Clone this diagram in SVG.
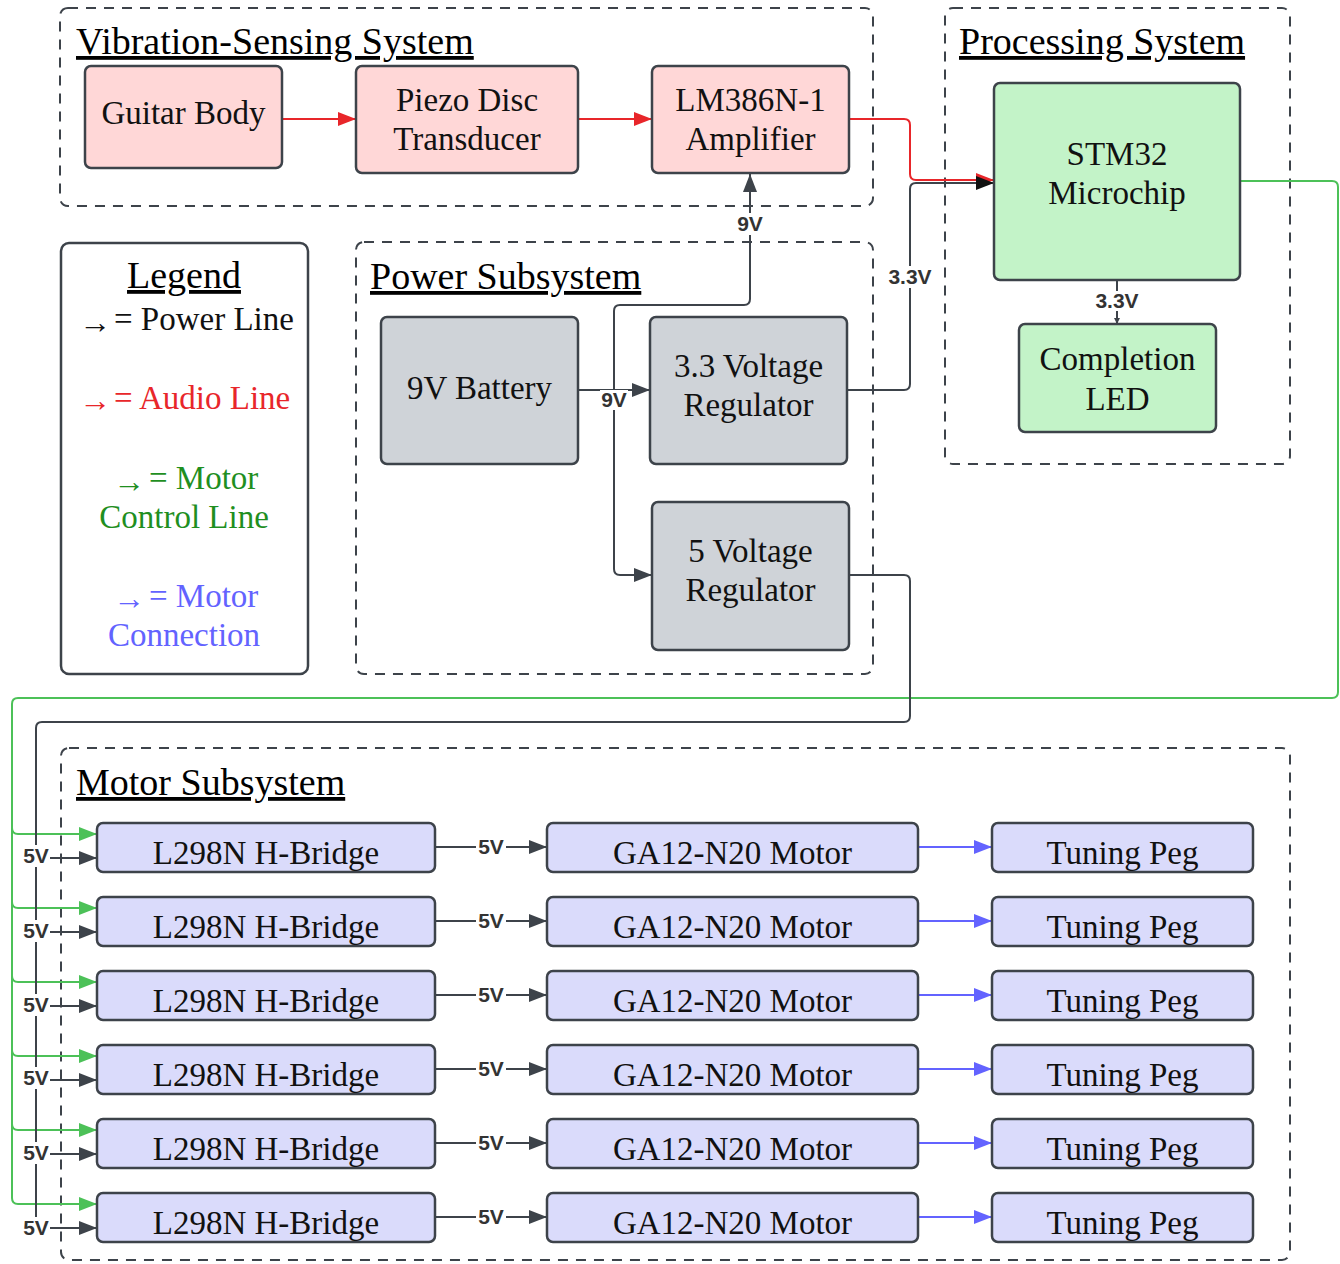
<svg xmlns="http://www.w3.org/2000/svg" width="1340" height="1264" viewBox="0 0 1340 1264">
<style>
.cont{fill:none;stroke:#3d434a;stroke-width:2;stroke-dasharray:10 8}
.title{font-family:"Liberation Serif",serif;font-size:38px;fill:#000;text-decoration:underline}
.nt{font-family:"Liberation Serif",serif;font-size:33px;fill:#111;text-anchor:middle}
.lt{font-family:"Liberation Serif",serif;font-size:33px}
.la{font-family:"Liberation Serif",serif;font-size:32px}
.pink{fill:#ffd7d7;stroke:#3d434a;stroke-width:2.5}
.grn{fill:#c3f3c8;stroke:#3d434a;stroke-width:2.5}
.gry{fill:#cfd3d8;stroke:#3d434a;stroke-width:2.5}
.lav{fill:#dadbfb;stroke:#3d434a;stroke-width:2.5}
.pw{fill:none;stroke:#3d434a;stroke-width:2}
.au{fill:none;stroke:#e8262a;stroke-width:2}
.mc{fill:none;stroke:#4cc158;stroke-width:2}
.mo{fill:none;stroke:#6363ff;stroke-width:2}
.lb{font-family:"Liberation Sans",sans-serif;font-size:21px;font-weight:bold;fill:#333;text-anchor:middle}
.bg{fill:#fff}
</style>
<defs>
<marker id="mp" markerUnits="userSpaceOnUse" markerWidth="20" markerHeight="14" refX="18" refY="7" orient="auto"><path d="M0,0 L18,7 L0,14 z" fill="#3d434a"/></marker>
<marker id="mk" markerUnits="userSpaceOnUse" markerWidth="20" markerHeight="14" refX="18" refY="7" orient="auto"><path d="M0,0 L18,7 L0,14 z" fill="#111"/></marker>
<marker id="ma" markerUnits="userSpaceOnUse" markerWidth="20" markerHeight="14" refX="18" refY="7" orient="auto"><path d="M0,0 L18,7 L0,14 z" fill="#e8262a"/></marker>
<marker id="mg" markerUnits="userSpaceOnUse" markerWidth="20" markerHeight="14" refX="18" refY="7" orient="auto"><path d="M0,0 L18,7 L0,14 z" fill="#4cc158"/></marker>
<marker id="mb" markerUnits="userSpaceOnUse" markerWidth="20" markerHeight="14" refX="18" refY="7" orient="auto"><path d="M0,0 L18,7 L0,14 z" fill="#6363ff"/></marker>
<marker id="ms" markerUnits="userSpaceOnUse" markerWidth="8" markerHeight="6" refX="6" refY="3" orient="auto"><path d="M0,0 L6,3 L0,6 z" fill="#3d434a"/></marker>
</defs>

<g id="containers">
<rect class="cont" x="60" y="8" width="813" height="198" rx="8"/>
<text class="title" x="76" y="54">Vibration-Sensing System</text>
<rect class="cont" x="945" y="8" width="345" height="456" rx="8"/>
<text class="title" x="959" y="54">Processing System</text>
<rect class="cont" x="356" y="242" width="517" height="432" rx="8"/>
<text class="title" x="370" y="289">Power Subsystem</text>
<rect class="cont" x="61" y="748" width="1229" height="512" rx="8"/>
<text class="title" x="76" y="795">Motor Subsystem</text>
</g>

<g id="legend">
<rect x="61" y="243" width="247" height="431" rx="8" fill="#fff" stroke="#3d434a" stroke-width="2.5"/>
<text class="title" x="184" y="288" text-anchor="middle">Legend</text>
<text class="la" x="79" y="333" fill="#111">→</text>
<text class="lt" x="114" y="330" fill="#111">= Power Line</text>
<text class="la" x="79" y="411" fill="#e8262a">→</text>
<text class="lt" x="114" y="409" fill="#e8262a">= Audio Line</text>
<text class="la" x="113" y="492" fill="#1f8f1f">→</text>
<text class="lt" x="149" y="489" fill="#1f8f1f">= Motor</text>
<text class="lt" x="184" y="528" fill="#1f8f1f" text-anchor="middle">Control Line</text>
<text class="la" x="113" y="609" fill="#6363ff">→</text>
<text class="lt" x="149" y="607" fill="#6363ff">= Motor</text>
<text class="lt" x="184" y="646" fill="#6363ff" text-anchor="middle">Connection</text>
</g>

<g id="connectors">
<path class="au" d="M282,119 H356" marker-end="url(#ma)"/>
<path class="au" d="M578,119 H652" marker-end="url(#ma)"/>
<path class="au" d="M849,119 H904 q6,0 6,6 V174 q0,6 6,6 H994" marker-end="url(#ma)"/>
<path class="pw" d="M847,390 H904 q6,0 6,-6 V189 q0,-6 6,-6 H994" marker-end="url(#mk)"/>
<path class="pw" d="M578,390 H650" marker-end="url(#mp)"/>
<path class="pw" d="M614,390 V311 q0,-6 6,-6 H744 q6,0 6,-6 V174" marker-end="url(#mp)"/>
<path class="pw" d="M614,390 V569 q0,6 6,6 H652" marker-end="url(#mp)"/>
<path class="pw" d="M1117,280 V324" marker-end="url(#ms)"/>
<path class="mc" d="M1240,181 H1332 q6,0 6,6 V692 q0,6 -6,6 H18 q-6,0 -6,6 V1198 q0,6 6,6 H97" marker-end="url(#mg)"/>
<path class="mc" d="M12,828 q0,6 6,6 H97" marker-end="url(#mg)"/>
<path class="mc" d="M12,902 q0,6 6,6 H97" marker-end="url(#mg)"/>
<path class="mc" d="M12,976 q0,6 6,6 H97" marker-end="url(#mg)"/>
<path class="mc" d="M12,1050 q0,6 6,6 H97" marker-end="url(#mg)"/>
<path class="mc" d="M12,1124 q0,6 6,6 H97" marker-end="url(#mg)"/>
<path class="pw" d="M849,575 H904 q6,0 6,6 V716 q0,6 -6,6 H42 q-6,0 -6,6 V1222 q0,6 6,6 H97" marker-end="url(#mp)"/>
<path class="pw" d="M36,858 H97" marker-end="url(#mp)"/>
<path class="pw" d="M36,932 H97" marker-end="url(#mp)"/>
<path class="pw" d="M36,1006 H97" marker-end="url(#mp)"/>
<path class="pw" d="M36,1080 H97" marker-end="url(#mp)"/>
<path class="pw" d="M36,1154 H97" marker-end="url(#mp)"/>
<path class="pw" d="M435,847 H547" marker-end="url(#mp)"/>
<path class="pw" d="M435,921 H547" marker-end="url(#mp)"/>
<path class="pw" d="M435,995 H547" marker-end="url(#mp)"/>
<path class="pw" d="M435,1069 H547" marker-end="url(#mp)"/>
<path class="pw" d="M435,1143 H547" marker-end="url(#mp)"/>
<path class="pw" d="M435,1217 H547" marker-end="url(#mp)"/>
<path class="mo" d="M918,847 H992" marker-end="url(#mb)"/>
<path class="mo" d="M918,921 H992" marker-end="url(#mb)"/>
<path class="mo" d="M918,995 H992" marker-end="url(#mb)"/>
<path class="mo" d="M918,1069 H992" marker-end="url(#mb)"/>
<path class="mo" d="M918,1143 H992" marker-end="url(#mb)"/>
<path class="mo" d="M918,1217 H992" marker-end="url(#mb)"/>
<g id="labels">
<rect class="bg" x="736" y="213" width="28" height="22"/><text class="lb" x="750" y="231">9V</text>
<rect class="bg" x="600" y="390" width="28" height="20"/><text class="lb" x="614" y="407">9V</text>
<rect class="bg" x="886" y="266" width="48" height="22"/><text class="lb" x="910" y="284">3.3V</text>
<rect class="bg" x="1093" y="291" width="48" height="20"/><text class="lb" x="1117" y="308">3.3V</text>
<rect class="bg" x="21" y="845" width="29" height="22"/><text class="lb" x="36" y="863">5V</text>
<rect class="bg" x="21" y="920" width="29" height="22"/><text class="lb" x="36" y="938">5V</text>
<rect class="bg" x="21" y="994" width="29" height="22"/><text class="lb" x="36" y="1012">5V</text>
<rect class="bg" x="21" y="1067" width="29" height="22"/><text class="lb" x="36" y="1085">5V</text>
<rect class="bg" x="21" y="1142" width="29" height="22"/><text class="lb" x="36" y="1160">5V</text>
<rect class="bg" x="21" y="1217" width="29" height="22"/><text class="lb" x="36" y="1235">5V</text>
<rect class="bg" x="476" y="836" width="30" height="22"/><text class="lb" x="491" y="854">5V</text>
<rect class="bg" x="476" y="910" width="30" height="22"/><text class="lb" x="491" y="928">5V</text>
<rect class="bg" x="476" y="984" width="30" height="22"/><text class="lb" x="491" y="1002">5V</text>
<rect class="bg" x="476" y="1058" width="30" height="22"/><text class="lb" x="491" y="1076">5V</text>
<rect class="bg" x="476" y="1132" width="30" height="22"/><text class="lb" x="491" y="1150">5V</text>
<rect class="bg" x="476" y="1206" width="30" height="22"/><text class="lb" x="491" y="1224">5V</text>
</g>
</g>

<g id="guitar-body"><rect class="pink" x="85" y="66" width="197" height="102" rx="6"/><text class="nt" x="183.5" y="124">Guitar Body</text></g>
<g id="piezo"><rect class="pink" x="356" y="66" width="222" height="107" rx="6"/><text class="nt" x="467" y="111">Piezo Disc</text><text class="nt" x="467" y="150">Transducer</text></g>
<g id="lm386"><rect class="pink" x="652" y="66" width="197" height="107" rx="6"/><text class="nt" x="750.5" y="111">LM386N-1</text><text class="nt" x="750.5" y="150">Amplifier</text></g>
<g id="stm32"><rect class="grn" x="994" y="83" width="246" height="197" rx="6"/><text class="nt" x="1117" y="165">STM32</text><text class="nt" x="1117" y="204">Microchip</text></g>
<g id="led"><rect class="grn" x="1019" y="324" width="197" height="108" rx="6"/><text class="nt" x="1117.5" y="370">Completion</text><text class="nt" x="1117.5" y="410">LED</text></g>
<g id="battery"><rect class="gry" x="381" y="317" width="197" height="147" rx="6"/><text class="nt" x="479.5" y="399">9V Battery</text></g>
<g id="reg33"><rect class="gry" x="650" y="317" width="197" height="147" rx="6"/><text class="nt" x="748.5" y="377">3.3 Voltage</text><text class="nt" x="748.5" y="416">Regulator</text></g>
<g id="reg5"><rect class="gry" x="652" y="502" width="197" height="148" rx="6"/><text class="nt" x="750.5" y="562">5 Voltage</text><text class="nt" x="750.5" y="601">Regulator</text></g>

<g id="hbridge1"><rect class="lav" x="97" y="823" width="338" height="49" rx="6"/><text class="nt" x="266" y="864">L298N H-Bridge</text></g>
<g id="hbridge2"><rect class="lav" x="97" y="897" width="338" height="49" rx="6"/><text class="nt" x="266" y="938">L298N H-Bridge</text></g>
<g id="hbridge3"><rect class="lav" x="97" y="971" width="338" height="49" rx="6"/><text class="nt" x="266" y="1012">L298N H-Bridge</text></g>
<g id="hbridge4"><rect class="lav" x="97" y="1045" width="338" height="49" rx="6"/><text class="nt" x="266" y="1086">L298N H-Bridge</text></g>
<g id="hbridge5"><rect class="lav" x="97" y="1119" width="338" height="49" rx="6"/><text class="nt" x="266" y="1160">L298N H-Bridge</text></g>
<g id="hbridge6"><rect class="lav" x="97" y="1193" width="338" height="49" rx="6"/><text class="nt" x="266" y="1234">L298N H-Bridge</text></g>

<g id="motor1"><rect class="lav" x="547" y="823" width="371" height="49" rx="6"/><text class="nt" x="732.5" y="864">GA12-N20 Motor</text></g>
<g id="motor2"><rect class="lav" x="547" y="897" width="371" height="49" rx="6"/><text class="nt" x="732.5" y="938">GA12-N20 Motor</text></g>
<g id="motor3"><rect class="lav" x="547" y="971" width="371" height="49" rx="6"/><text class="nt" x="732.5" y="1012">GA12-N20 Motor</text></g>
<g id="motor4"><rect class="lav" x="547" y="1045" width="371" height="49" rx="6"/><text class="nt" x="732.5" y="1086">GA12-N20 Motor</text></g>
<g id="motor5"><rect class="lav" x="547" y="1119" width="371" height="49" rx="6"/><text class="nt" x="732.5" y="1160">GA12-N20 Motor</text></g>
<g id="motor6"><rect class="lav" x="547" y="1193" width="371" height="49" rx="6"/><text class="nt" x="732.5" y="1234">GA12-N20 Motor</text></g>

<g id="peg1"><rect class="lav" x="992" y="823" width="261" height="49" rx="6"/><text class="nt" x="1122.5" y="864">Tuning Peg</text></g>
<g id="peg2"><rect class="lav" x="992" y="897" width="261" height="49" rx="6"/><text class="nt" x="1122.5" y="938">Tuning Peg</text></g>
<g id="peg3"><rect class="lav" x="992" y="971" width="261" height="49" rx="6"/><text class="nt" x="1122.5" y="1012">Tuning Peg</text></g>
<g id="peg4"><rect class="lav" x="992" y="1045" width="261" height="49" rx="6"/><text class="nt" x="1122.5" y="1086">Tuning Peg</text></g>
<g id="peg5"><rect class="lav" x="992" y="1119" width="261" height="49" rx="6"/><text class="nt" x="1122.5" y="1160">Tuning Peg</text></g>
<g id="peg6"><rect class="lav" x="992" y="1193" width="261" height="49" rx="6"/><text class="nt" x="1122.5" y="1234">Tuning Peg</text></g>
</svg>
